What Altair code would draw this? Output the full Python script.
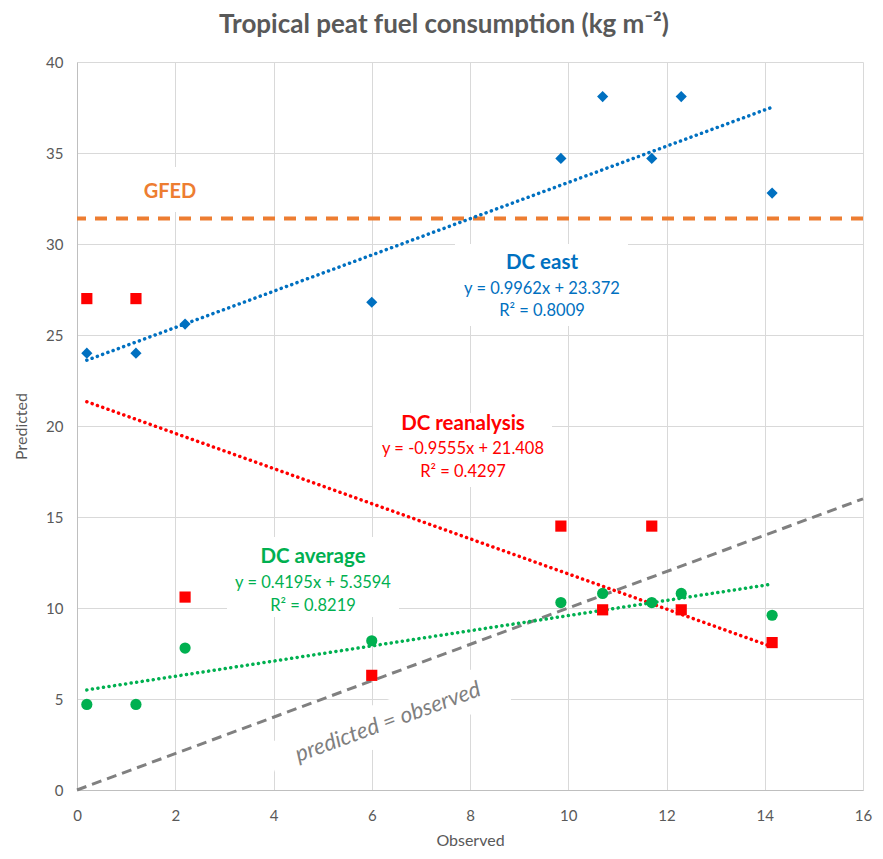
import altair as alt
import pandas as pd

# ---- data ----
observed = [0.2, 1.2, 2.2, 6.0, 9.85, 10.7, 11.7, 12.3, 14.15]
dc_east = [24.0, 24.0, 25.6, 26.8, 34.7, 38.1, 34.7, 38.1, 32.8]
dc_reanalysis = [27.0, 27.0, 10.6, 6.3, 14.5, 9.9, 14.5, 9.9, 8.1]
dc_average = [4.7, 4.7, 7.8, 8.2, 10.3, 10.8, 10.3, 10.8, 9.6]
gfed_value = [31.4]
identity_obs = [0, 16]
identity_pred = [0, 16]
x_ticks = [0, 2, 4, 6, 8, 10, 12, 14, 16]
y_ticks = [0, 5, 10, 15, 20, 25, 30, 35, 40]

series_names = ["DC east", "DC reanalysis", "DC average"]
series_values = [dc_east, dc_reanalysis, dc_average]
series_colors = ["#0070C0", "#FF0000", "#00B050"]
series_shapes = ["diamond", "square", "circle"]

rows = []
for name, vals in zip(series_names, series_values):
    for o, p in zip(observed, vals):
        rows.append({"series": name, "observed": o, "predicted": p})
df = pd.DataFrame(rows)
gfed_df = pd.DataFrame({"predicted": gfed_value})
ident_df = pd.DataFrame({"observed": identity_obs, "predicted": identity_pred})
one = pd.DataFrame({"a": [0]})

FONT = "Lato"
GREY = "#595959"

x_scale = alt.Scale(domain=[0, 16], nice=False, zero=False)
y_scale = alt.Scale(domain=[0, 40], nice=False, zero=False)
x_axis = alt.Axis(values=x_ticks, title="Observed", labelPadding=18, titlePadding=9,
                  labelFlush=False)
y_axis = alt.Axis(values=y_ticks, title="Predicted", labelPadding=14, titlePadding=16)

def X(field="observed"):
    return alt.X(f"{field}:Q", scale=x_scale, axis=x_axis)

def Y(field="predicted"):
    return alt.Y(f"{field}:Q", scale=y_scale, axis=y_axis)

layers = []

# white label backgrounds (hide gridlines behind labels)
for (x1, x2, y1, y2) in [(378, 551, 182, 264), (296, 475, 351, 425),
                         (150, 322, 475, 555), (53, 138, 105, 150)]:
    layers.append(alt.Chart(one).mark_rect(color="white").encode(
        x=alt.value(x1), x2=alt.value(x2), y=alt.value(y1), y2=alt.value(y2)))
layers.append(alt.Chart(one).mark_rule(color="white", strokeWidth=42, strokeCap="butt").encode(
    x=alt.value(195), y=alt.value(702), x2=alt.value(427), y2=alt.value(618)))

# predicted = observed line
layers.append(alt.Chart(ident_df).mark_line(color="#808080", strokeWidth=3, strokeDash=[10, 6]).encode(
    x=X(), y=Y()))

# GFED
layers.append(alt.Chart(gfed_df).mark_rule(color="#ED7D31", strokeWidth=4, strokeDash=[12, 9]).encode(
    y=Y()))

# trendlines (linear regression)
for name, col in zip(series_names, series_colors):
    layers.append(alt.Chart(df).transform_filter(alt.datum.series == name)
                  .transform_regression("observed", "predicted", method="linear")
                  .mark_line(color=col, strokeWidth=3.5, strokeDash=[0.1, 5.5], strokeCap="round")
                  .encode(x=X(), y=Y()))

# points
for name, col, shp in zip(series_names, series_colors, series_shapes):
    layers.append(alt.Chart(df).transform_filter(alt.datum.series == name)
                  .mark_point(shape=shp, filled=True, color=col, opacity=1, size=125)
                  .encode(x=X(), y=Y()))

def txt(text, x, y, color, size, weight="normal", style="normal", angle=0):
    kw = dict(color=color, fontSize=size, fontWeight=weight, font=FONT, align="center",
              baseline="middle", fontStyle=style)
    if angle:
        kw["angle"] = angle
    return alt.Chart(one).mark_text(**kw).encode(
        x=alt.value(x), y=alt.value(y), text=alt.value(text))

layers += [
    txt("Tropical peat fuel consumption (kg m⁻²)", 367, -37, GREY, 26, "bold"),
    txt("GFED", 93, 130, "#ED7D31", 20, "bold"),
    txt("DC east", 465, 201, "#0070C0", 20.5, "bold"),
    txt("y = 0.9962x + 23.372", 465, 227, "#0070C0", 16.5),
    txt("R² = 0.8009", 465, 249, "#0070C0", 16.5),
    txt("DC reanalysis", 386, 362, "#FF0000", 20.5, "bold"),
    txt("y = -0.9555x + 21.408", 386, 387, "#FF0000", 16.5),
    txt("R² = 0.4297", 386, 410, "#FF0000", 16.5),
    txt("DC average", 236, 495, "#00B050", 20.5, "bold"),
    txt("y = 0.4195x + 5.3594", 236, 521, "#00B050", 16.5),
    txt("R² = 0.8219", 236, 544, "#00B050", 16.5),
    txt("predicted = observed", 311, 660, "#7F7F7F", 22.5, style="italic", angle=340),
]

chart = alt.layer(*layers).properties(
    width=786, height=728,
    autosize=alt.AutoSizeParams(type="none"),
    padding={"left": 69, "top": 54, "right": 12, "bottom": 61},
).configure_view(stroke=None).configure_axis(
    gridColor="#D9D9D9", gridWidth=1, domainColor="#BFBFBF", domainWidth=1,
    ticks=False, labelFont=FONT, labelFontSize=15, labelColor=GREY,
    titleFont=FONT, titleFontSize=16, titleColor=GREY, titleFontWeight="normal",
)

chart.save("out.html", embed_options={"renderer": "svg", "actions": False})
